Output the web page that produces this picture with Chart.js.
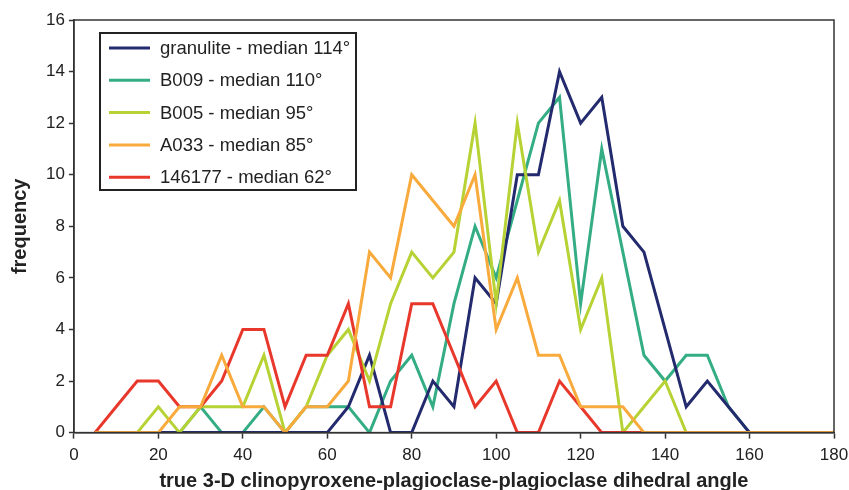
<!DOCTYPE html>
<html>
<head>
<meta charset="utf-8">
<script src="https://cdn.jsdelivr.net/npm/chart.js@4"></script>
<style>
  html, body { margin: 0; padding: 0; background: #fff; }
  #wrap { width: 849px; height: 490px; }
</style>
</head>
<body>
<div id="wrap"><canvas id="myChart" width="849" height="490"></canvas></div>
<script>
const angles = [5, 10, 15, 20, 25, 30, 35, 40, 45, 50, 55, 60, 65, 70, 75, 80, 85, 90,
  95, 100, 105, 110, 115, 120, 125, 130, 135, 140, 145, 150, 155, 160, 165, 170, 175, 180];

const granulite = [0, 0, 0, 0, 0, 0, 0, 0, 0, 0, 0, 0, 1, 3, 0, 0, 2, 1,
  6, 5, 10, 10, 14, 12, 13, 8, 7, 4, 1, 2, 1, 0, 0, 0, 0, 0];
const b009 = [0, 0, 0, 0, 0, 1, 0, 0, 1, 0, 1, 1, 1, 0, 2, 3, 1, 5,
  8, 6, 9, 12, 13, 5, 11, 7, 3, 2, 3, 3, 1, 0, 0, 0, 0, 0];
const b005 = [0, 0, 0, 1, 0, 1, 1, 1, 3, 0, 1, 3, 4, 2, 5, 7, 6, 7,
  12, 5, 12, 7, 9, 4, 6, 0, 1, 2, 0, 0, 0, 0, 0, 0, 0, 0];
const a033 = [0, 0, 0, 0, 1, 1, 3, 1, 1, 0, 1, 1, 2, 7, 6, 10, 9, 8,
  10, 4, 6, 3, 3, 1, 1, 1, 0, 0, 0, 0, 0, 0, 0, 0, 0, 0];
const s146177 = [0, 1, 2, 2, 1, 1, 2, 4, 4, 1, 3, 3, 5, 1, 1, 5, 5, 3,
  1, 2, 0, 0, 2, 1, 0, 0, 0, 0, 0, 0, 0, 0, 0, 0, 0, 0];

const seriesNames = [
  "granulite - median 114°",
  "B009 - median 110°",
  "B005 - median 95°",
  "A033 - median 85°",
  "146177 - median 62°",
];

const xTitle = "true 3-D clinopyroxene-plagioclase-plagioclase dihedral angle";
const yTitle = "frequency";

const FONT = "'Liberation Sans', Arial, sans-serif";

function pts(arr) {
  return arr.map((v, i) => ({ x: angles[i], y: v }));
}

function makeSet(label, arr, color, order) {
  return {
    label: label,
    data: pts(arr),
    borderColor: color,
    backgroundColor: color,
    borderWidth: 3,
    pointRadius: 0,
    tension: 0,
    order: order,
  };
}

// frame round the plot + legend box inside it
const framePlugin = {
  id: "frame",
  afterDraw(chart) {
    const c = chart.ctx;
    const a = chart.chartArea;
    c.save();
    c.strokeStyle = "#333";
    c.lineWidth = 1.5;
    c.strokeRect(a.left, a.top, a.right - a.left, a.bottom - a.top);

    const bx = 100, by = 33, bw = 256, bh = 157;
    c.fillStyle = "#fff";
    c.fillRect(bx, by, bw, bh);
    c.strokeStyle = "#222";
    c.lineWidth = 2;
    c.strokeRect(bx, by, bw, bh);
    c.font = "18.5px " + FONT;
    c.textBaseline = "middle";
    chart.data.datasets.forEach((ds, i) => {
      const y = 48 + i * 32.3;
      c.strokeStyle = ds.borderColor;
      c.lineWidth = 3;
      c.beginPath();
      c.moveTo(109, y);
      c.lineTo(150, y);
      c.stroke();
      c.fillStyle = "#222";
      c.fillText(ds.label, 160, y + 1);
    });
    c.restore();
  },
};

const ctx = document.getElementById("myChart").getContext("2d");

const myChart = new Chart(ctx, {
  type: "line",
  data: {
    datasets: [
      makeSet(seriesNames[0], granulite, "#232a6e", 3),
      makeSet(seriesNames[1], b009, "#34ad85", 4),
      makeSet(seriesNames[2], b005, "#b6d234", 2),
      makeSet(seriesNames[3], a033, "#f9aa3c", 0),
      makeSet(seriesNames[4], s146177, "#e8372b", 1),
    ],
  },
  options: {
    responsive: false,
    animation: false,
    layout: { padding: { left: 8, right: 15, top: 20, bottom: -3 } },
    plugins: {
      legend: { display: false },
      tooltip: { enabled: false },
    },
    scales: {
      x: {
        type: "linear",
        min: 0,
        max: 180,
        afterFit(scale) {
          // let the "180" label hang into the right margin
          scale.paddingRight = 0;
        },
        ticks: { stepSize: 20, color: "#222", font: { family: FONT, size: 17 }, padding: 7 },
        grid: { drawOnChartArea: false, tickLength: 6, tickColor: "#333", tickWidth: 1.5 },
        border: { color: "#333", width: 1.5 },
        title: {
          display: true,
          text: xTitle,
          color: "#222",
          font: { family: FONT, size: 20, weight: "bold" },
          padding: { top: -4, bottom: 0 },
        },
      },
      y: {
        min: 0,
        max: 16,
        ticks: { stepSize: 2, color: "#222", font: { family: FONT, size: 17 }, padding: 4 },
        grid: { drawOnChartArea: false, tickLength: 5, tickColor: "#333", tickWidth: 1.5 },
        border: { color: "#333", width: 1.5 },
        title: {
          display: true,
          text: yTitle,
          color: "#222",
          font: { family: FONT, size: 20, weight: "bold" },
          padding: { top: 0, bottom: 10 },
        },
      },
    },
  },
  plugins: [framePlugin],
});
</script>
</body>
</html>
